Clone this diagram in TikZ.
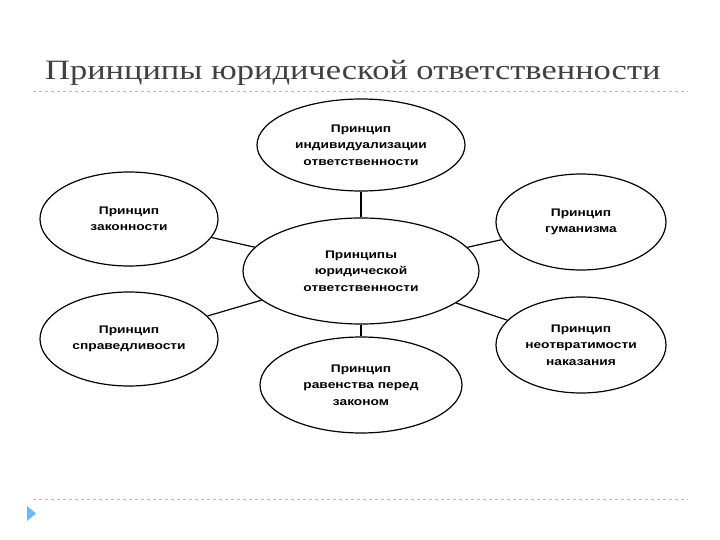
\documentclass[tikz,border=0pt]{standalone}
\usepackage{fontspec}
\setmainfont{Liberation Sans}
\newfontfamily\titlefont[FakeStretch=1.23]{Liberation Serif}
\newfontfamily\ovalfont[FakeStretch=1.25]{Liberation Sans}
\usetikzlibrary{shapes.geometric}

\begin{document}
\begin{tikzpicture}[x=1pt,y=-1pt,
  oval/.style={draw,ellipse,line width=1.2pt,inner sep=0pt,align=center,
    font=\ovalfont\bfseries\fontsize{11}{16.5}\selectfont},
  link/.style={line width=1.2pt},
  rule/.style={dashed,gray!55,line width=0.6pt}]

\useasboundingbox (0,0) rectangle (720,540);

% Title
\node[anchor=base west,inner sep=0pt,text=black!75,
  font=\titlefont\fontsize{28}{34}\selectfont] (title) at (45,80)
  {Принципы юридической ответственности};

% Rules
\draw[rule] (33,91)--(688,91);
\draw[rule] (33,499)--(688,499);

% Bullet
\fill[blue!45!cyan!60!white] (27,506)--(36,513.5)--(27,521)--cycle;

% Centre
\node[oval,minimum width=236,minimum height=106] (centre) at (361,271)
  {Принципы\\юридической\\ответственности};

% Principles
\node[oval,minimum width=208,minimum height=92] (indiv) at (361,145)
  {Принцип\\индивидуализации\\ответственности};
\node[oval,minimum width=178,minimum height=94] (legal) at (129,219)
  {Принцип\\законности};
\node[oval,minimum width=170,minimum height=96] (human) at (581,222)
  {Принцип\\гуманизма};
\node[oval,minimum width=178,minimum height=94] (justice) at (129,339)
  {Принцип\\справедливости};
\node[oval,minimum width=170,minimum height=96] (punish) at (581,345)
  {Принцип\\неотвратимости\\наказания};
\node[oval,minimum width=202,minimum height=96] (equal) at (361,385)
  {Принцип\\равенства перед\\законом};

% Links
\draw[link] (indiv)--(centre);
\draw[link] (centre)--(equal);
\draw[link] (legal)--(centre);
\draw[link] (justice)--(centre);
\draw[link] (human)--(centre);
\draw[link] (punish)--(centre);

\end{tikzpicture}
\end{document}
